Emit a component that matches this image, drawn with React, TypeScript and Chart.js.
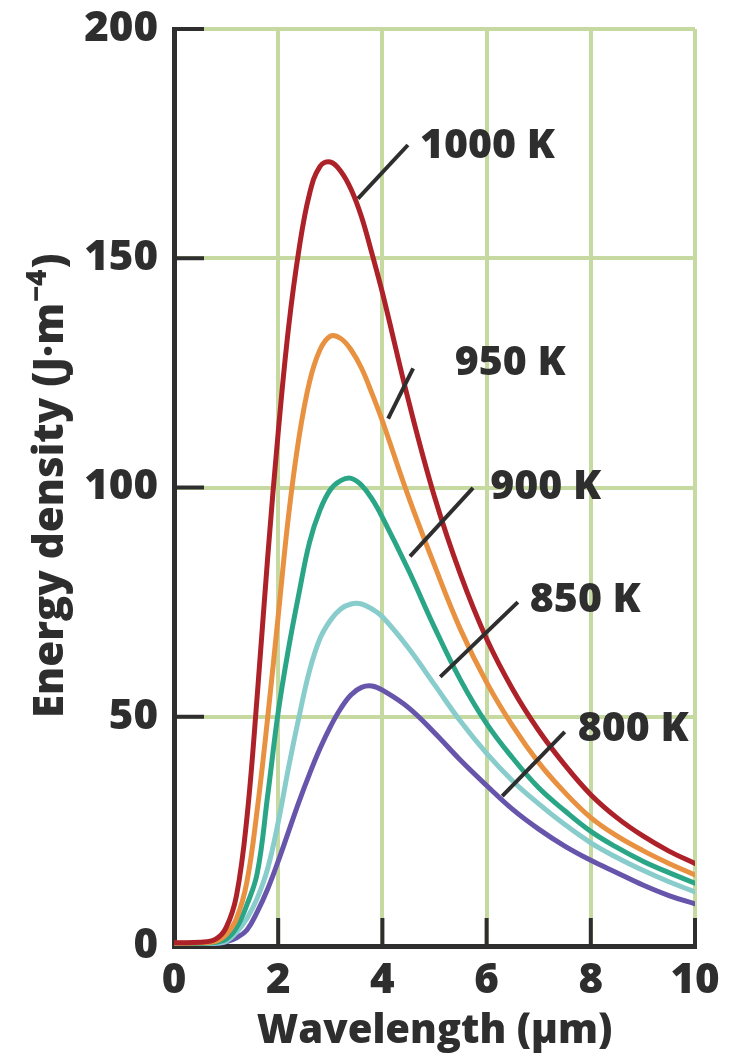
import React, { useEffect, useRef } from "react";
import { Chart, registerables } from "chart.js";
Chart.register(...registerables);

// Wavelength grid (µm)
const wavelengths = [0, 0.5, 0.8, 1.0, 1.2, 1.4, 1.6, 1.8, 2.0, 2.2, 2.4, 2.6, 2.8, 3.0, 3.2, 3.4, 3.6, 3.8, 4.0, 4.5, 5.0, 5.5, 6.0, 6.5, 7.0, 7.5, 8.0, 8.5, 9.0, 9.5, 10];

// Energy density (J·m^-4)
const k1000 = [0.7, 0.8, 1.5, 4, 11, 28, 55, 85, 112, 135, 152, 164, 170, 171, 169, 165, 159, 151, 142.5, 119, 98, 81, 67, 56, 47, 39.5, 33, 28, 24, 20.7, 18];
const k950 = [0.6, 0.7, 1.0, 2.5, 6, 14, 30, 50, 72, 94, 111, 123, 130, 133, 132.5, 130, 126, 120.5, 114.5, 98, 83, 69, 57.5, 48, 40, 33.5, 28, 24, 20.8, 18, 15.5];
const k900 = [0.5, 0.6, 0.8, 1.5, 4, 9, 16, 33, 51, 65, 77, 88, 95, 99.5, 101.5, 102, 100.5, 97.5, 93.5, 82, 69.5, 58, 48.5, 41, 34.5, 29.5, 25, 21.5, 18.5, 16, 13.7];
const k850 = [0.4, 0.5, 0.6, 1.0, 3, 6, 10.5, 17, 27, 39, 50, 60, 67, 71, 73.5, 74.6, 74.6, 73.5, 71.8, 65, 57, 49, 42, 36, 31, 26.5, 22.5, 19.3, 16.5, 14, 11.8];
const k800 = [0.3, 0.4, 0.5, 0.9, 1.8, 3.5, 7.5, 12.5, 18.5, 25, 31.5, 37.5, 43, 47.8, 51.8, 54.8, 56.4, 56.7, 55.8, 52, 46.5, 40.5, 35, 29.8, 25.5, 21.8, 18.7, 16, 13.3, 11, 9.2];

const seriesLabels = ["1000 K", "950 K", "900 K", "850 K", "800 K"];
const seriesValues = [k1000, k950, k900, k850, k800];
const seriesColors = ["#ad2129", "#e89141", "#2aa687", "#88cccc", "#6655aa"];

const xTicks = [0, 2, 4, 6, 8, 10];
const yTicks = [0, 50, 100, 150, 200];

// Label leader lines and text anchors in data units (λ, energy density)
const leaderFrom = [[3.53, 163], [4.11, 115], [4.53, 85], [5.11, 58.7], [6.3, 32.7]];
const leaderTo = [[4.49, 174.7], [4.59, 126], [5.74, 99.9], [6.6, 75], [7.5, 46.7]];
const labelAt = [[4.72, 174.5], [5.39, 127], [6.07, 100], [6.83, 75.5], [7.75, 47.3]];

const FONT = "'Open Sans', 'Liberation Sans', sans-serif";
const INK = "#2e2e2e";
const GRID = "#c6d9a0";

const annotationPlugin = {
  id: "annotations",
  beforeDatasetsDraw(chart: any) {
    const { ctx, chartArea, scales } = chart;
    const xs = scales.x, ys = scales.y;
    ctx.save();
    ctx.strokeStyle = INK;
    ctx.lineWidth = 4;
    ctx.lineCap = "butt";
    xTicks.forEach((v) => {
      if (v === 0) return;
      const px = xs.getPixelForValue(v);
      ctx.beginPath();
      ctx.moveTo(px, chartArea.bottom);
      ctx.lineTo(px, chartArea.bottom - 28);
      ctx.stroke();
    });
    yTicks.forEach((v) => {
      if (v === 0) return;
      const py = ys.getPixelForValue(v);
      ctx.beginPath();
      ctx.moveTo(chartArea.left, py);
      ctx.lineTo(chartArea.left + 30, py);
      ctx.stroke();
    });
    ctx.restore();
  },
  afterDatasetsDraw(chart: any) {
    const { ctx, scales } = chart;
    const xs = scales.x, ys = scales.y;
    ctx.save();
    ctx.strokeStyle = INK;
    ctx.lineWidth = 4;
    seriesLabels.forEach((lab, i) => {
      ctx.beginPath();
      ctx.moveTo(xs.getPixelForValue(leaderFrom[i][0]), ys.getPixelForValue(leaderFrom[i][1]));
      ctx.lineTo(xs.getPixelForValue(leaderTo[i][0]), ys.getPixelForValue(leaderTo[i][1]));
      ctx.stroke();
      ctx.fillStyle = INK;
      ctx.font = `800 41px ${FONT}`;
      ctx.textAlign = "left";
      ctx.textBaseline = "middle";
      ctx.fillText(lab, xs.getPixelForValue(labelAt[i][0]), ys.getPixelForValue(labelAt[i][1]));
    });
    ctx.restore();
  },
  afterDraw(chart: any) {
    const { ctx } = chart;
    ctx.save();
    ctx.translate(63, 718);
    ctx.rotate(-Math.PI / 2);
    ctx.fillStyle = INK;
    ctx.textAlign = "left";
    ctx.textBaseline = "alphabetic";
    ctx.font = `800 42px ${FONT}`;
    const main = "Energy density (J\u00b7m";
    ctx.fillText(main, 0, 0);
    let w = ctx.measureText(main).width;
    ctx.font = `800 28px ${FONT}`;
    const sup = "\u22124";
    ctx.fillText(sup, w + 1, -17);
    w += ctx.measureText(sup).width + 2;
    ctx.font = `800 42px ${FONT}`;
    ctx.fillText(")", w, 0);
    ctx.restore();
  },
};

export default function App() {
  const ref = useRef<HTMLCanvasElement>(null);
  useEffect(() => {
    if (!ref.current) return;
    const tickFont = { family: FONT, size: 42, weight: "800" as any };
    const chart = new Chart(ref.current, {
      type: "line",
      data: {
        datasets: seriesLabels.map((lab, i) => ({
          label: lab,
          data: wavelengths.map((x, j) => ({ x, y: seriesValues[i][j] })),
          borderColor: seriesColors[i],
          borderWidth: 5,
          pointRadius: 0,
          fill: false,
          tension: 0.4,
          borderCapStyle: "round" as const,
          borderJoinStyle: "round" as const,
        })),
      },
      options: {
        responsive: false,
        animation: false,
        layout: { padding: { top: 29, right: 38, left: 0, bottom: 0 } },
        plugins: { legend: { display: false }, tooltip: { enabled: false } },
        scales: {
          x: {
            type: "linear",
            min: 0,
            max: 10,
            afterBuildTicks: (s: any) => { s.ticks = xTicks.map((v) => ({ value: v })); },
            afterFit: (s: any) => { s.height = 114; s.paddingLeft = 0; s.paddingRight = 0; },
            grid: { color: GRID, lineWidth: 4, drawTicks: false },
            border: { display: true, color: INK, width: 5 },
            ticks: { color: INK, font: tickFont, padding: 10, maxRotation: 0 },
            title: { display: true, text: "Wavelength (\u00b5m)", color: INK, font: { family: FONT, size: 40, weight: "800" as any }, padding: { top: 0, bottom: 4 } },
          },
          y: {
            type: "linear",
            min: 0,
            max: 200,
            afterBuildTicks: (s: any) => { s.ticks = yTicks.map((v) => ({ value: v })); },
            afterFit: (s: any) => { s.width = 174; s.paddingTop = 0; s.paddingBottom = 0; },
            grid: { color: GRID, lineWidth: 4, drawTicks: false },
            border: { display: true, color: INK, width: 5 },
            ticks: { color: INK, font: tickFont, padding: 16 },
          },
        },
      },
      plugins: [annotationPlugin],
    });
    return () => chart.destroy();
  }, []);
  return (
    <div style={{ position: "absolute", left: 0, top: 0, width: 733, height: 1060, background: "#fff" }}>
      <canvas ref={ref} width={733} height={1060} style={{ display: "block" }} />
    </div>
  );
}
